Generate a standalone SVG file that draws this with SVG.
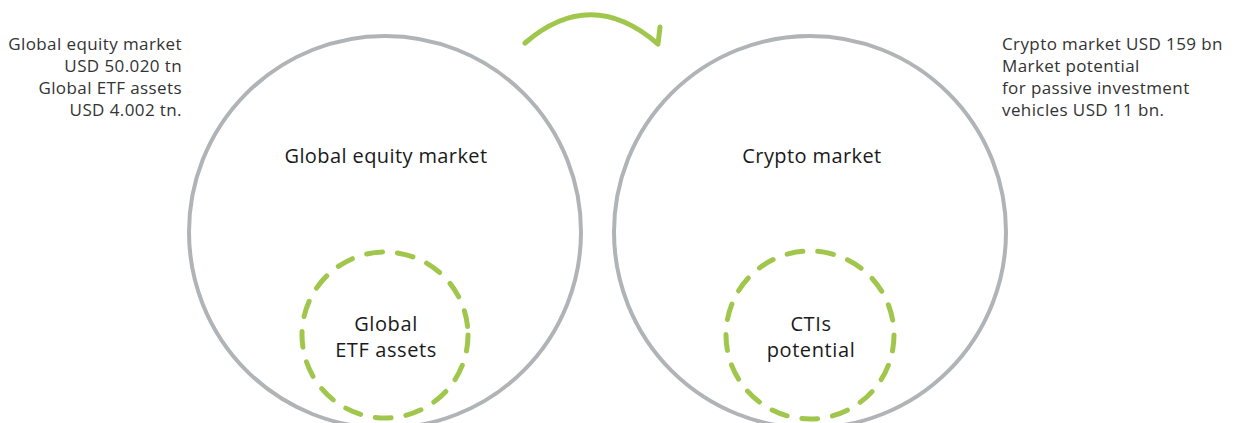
<svg xmlns="http://www.w3.org/2000/svg" width="1236" height="423" viewBox="0 0 1236 423">
<style>
.big{fill:none;stroke:#b1b4b6;stroke-width:4}
.dash{fill:none;stroke:#a0c74c;stroke-width:5;stroke-linecap:round;stroke-dasharray:16 15}
.t{font-family:"Open Sans","DejaVu Sans",sans-serif;fill:#1a1a1a}
.side{font-size:17px;letter-spacing:0.4px;fill:#333}
.title{font-size:20px;letter-spacing:0.4px}
.inner{font-size:20px;letter-spacing:0.6px}
.arr{fill:none;stroke:#a0c74c;stroke-width:5;stroke-linecap:round;stroke-linejoin:round}
</style>
<rect width="1236" height="423" fill="#fff"/>
<g id="equity-circle">
<circle class="big" cx="385" cy="232" r="196"/>
<text class="t title" x="386" y="163" text-anchor="middle">Global equity market</text>
</g>
<g id="etf-circle">
<circle class="dash" cx="385" cy="335" r="83"/>
<text class="t inner" x="386" y="331" text-anchor="middle">Global</text>
<text class="t inner" x="386" y="357" text-anchor="middle">ETF assets</text>
</g>
<g id="crypto-circle">
<circle class="big" cx="810" cy="232" r="196"/>
<text class="t title" x="812" y="163" text-anchor="middle">Crypto market</text>
</g>
<g id="cti-circle">
<circle class="dash" cx="810" cy="335" r="84"/>
<text class="t inner" x="811" y="331" text-anchor="middle">CTIs</text>
<text class="t inner" x="811" y="357" text-anchor="middle">potential</text>
</g>
<g id="left-note">
<text class="t side" text-anchor="end"><tspan x="182" y="50">Global equity market</tspan><tspan x="182" y="72">USD 50.020 tn</tspan><tspan x="182" y="94">Global ETF assets</tspan><tspan x="182" y="116">USD 4.002 tn.</tspan></text>
</g>
<g id="right-note">
<text class="t side"><tspan x="1002" y="50">Crypto market USD 159 bn</tspan><tspan x="1002" y="72">Market potential</tspan><tspan x="1002" y="94">for passive investment</tspan><tspan x="1002" y="116">vehicles USD 11 bn.</tspan></text>
</g>
<g id="connectors">
<path class="arr" d="M525 43 Q591 -14 658 44 L660 27"/>
</g>
</svg>
